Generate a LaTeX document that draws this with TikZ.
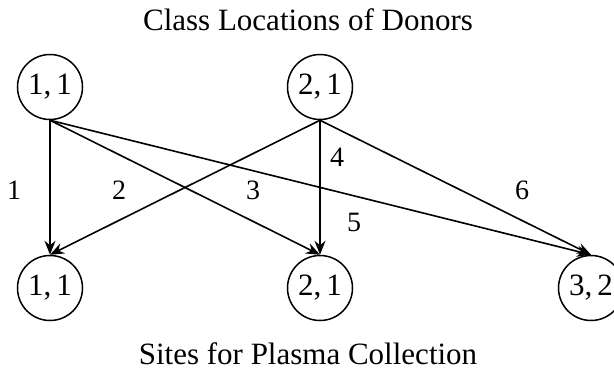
\documentclass[tikz,border=0pt]{standalone}
\usepackage{fontspec}
\setmainfont{Liberation Serif}
\usetikzlibrary{arrows.meta,shapes.geometric}
\begin{document}
\begin{tikzpicture}[x=1pt,y=-1pt,
  vert/.style={draw,line width=1.5pt,circle,minimum size=65pt,inner sep=0pt,font=\fontsize{31}{36}\selectfont},
  lbl/.style={font=\fontsize{28}{32}\selectfont,inner sep=0pt},
  ttl/.style={font=\fontsize{31}{36}\selectfont,inner sep=0pt,anchor=base},
  arr/.style={line width=1.6pt,-{Stealth[length=14pt,width=11pt]}}]
\useasboundingbox (0,0) rectangle (614,373);
\node[ttl] (t1) at (308,30) {Class Locations of Donors};
\node[ttl] (t2) at (308,364) {Sites for Plasma Collection};
\node[vert] (a) at (50,87) {1,\,1};
\node[vert] (b) at (320,87) {2,\,1};
\node[vert] (c) at (50,288) {1,\,1};
\node[vert] (d) at (320,288) {2,\,1};
\node[vert] (e) at (591,288) {3,\,2};
\draw[arr] (a.south) -- (c.north);
\draw[arr] (a.south) -- (d.north);
\draw[arr] (a.south) -- (e.north);
\draw[arr] (b.south) -- (c.north);
\draw[arr] (b.south) -- (d.north);
\draw[arr] (b.south) -- (e.north);
\node[lbl] (l1) at (14,190) {1};
\node[lbl] (l2) at (119,190) {2};
\node[lbl] (l3) at (253,190) {3};
\node[lbl] (l4) at (337,157) {4};
\node[lbl] (l5) at (354,222) {5};
\node[lbl] (l6) at (522,190) {6};
\end{tikzpicture}
\end{document}
